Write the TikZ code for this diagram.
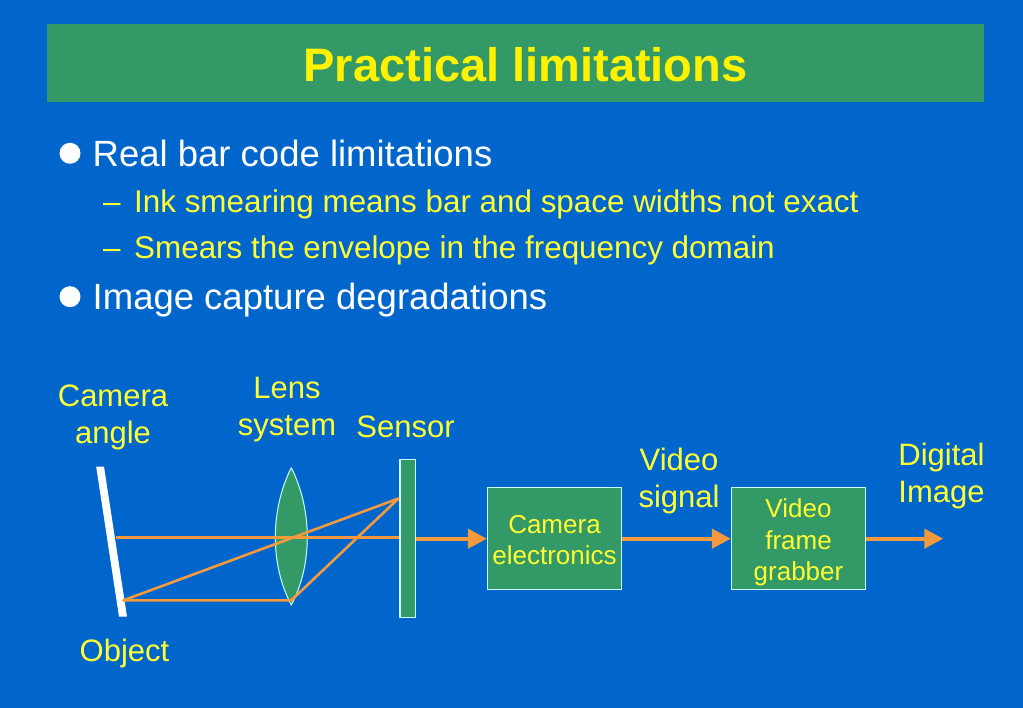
\documentclass[tikz,border=0pt]{standalone}
\usepackage{fontspec}
\setmainfont{Liberation Sans}
\usetikzlibrary{arrows.meta}
\definecolor{bgBlue}{HTML}{0066CC}
\definecolor{boxGreen}{HTML}{339966}
\definecolor{rayOrange}{HTML}{F59A3C}
\definecolor{textY}{HTML}{FFFF33}
\definecolor{edgeC}{HTML}{CCFFFF}
\tikzset{
	Head/.style={text=white,font=\fontsize{36.5}{36.5}\selectfont,anchor=base west,inner sep=0pt},
	Sub/.style={text=textY,font=\fontsize{31.4}{31.4}\selectfont,anchor=base west,inner sep=0pt},
	Lab/.style={text=textY,font=\fontsize{31}{37.5}\selectfont,align=center,anchor=base,inner sep=0pt},
	Box/.style={draw=edgeC,line width=1.2pt,fill=boxGreen,minimum width=134pt,minimum height=102pt,inner sep=0pt},
	BoxTxt/.style={text=textY,font=\fontsize{26}{31.5}\selectfont,align=center,inner sep=0pt},
	Dot/.style={circle,fill=white,minimum size=21pt,inner sep=0pt},
	Ray/.style={rayOrange,line width=2.6pt,line join=round},
	Flow/.style={->,rayOrange,line width=4.4pt}
}

\begin{document}
\begin{tikzpicture}[>={Triangle[length=19pt,width=19pt]},x=1pt,y=-1pt]

	% background and title
	\fill[bgBlue] (0,0) rectangle (1023,708);
	\useasboundingbox (0,0) rectangle (1023,708);
	\node[fill=boxGreen,minimum width=937pt,minimum height=78pt,inner sep=0pt] (titlebar) at (515.5,63) {};
	\node[text=yellow,font=\fontsize{47}{47}\selectfont\bfseries,anchor=base,inner sep=0pt] (title) at (525.5,81.5) {Practical limitations};

	% bullets
	\node[Dot] (dota) at (70,153.3) {};
	\node[Head] (reallim) at (92.5,167) {Real bar code limitations};
	\node[Sub] (dasha) at (103,213) {–};
	\node[Sub] (ink) at (134,213) {Ink smearing means bar and space widths not exact};
	\node[Sub] (dashb) at (103,258.5) {–};
	\node[Sub] (smear) at (134,258.5) {Smears the envelope in the frequency domain};
	\node[Dot] (dotb) at (70,296.7) {};
	\node[Head] (capture) at (92.5,310) {Image capture degradations};

	% object, lens, sensor
	\fill[white] (96.2,466.7)--(104,466.7)--(127,616.7)--(119,616.7)--cycle;

	\coordinate (lensT) at (291.3,467.7);
	\coordinate (lensB) at (291.3,605);
	\draw[fill=boxGreen,draw=edgeC,line width=1pt] (lensT) .. controls (270,510) and (270,565) .. (lensB)
		.. controls (312.6,565) and (312.6,510) .. (lensT);

	\node[draw=edgeC,line width=1.2pt,fill=boxGreen,minimum width=15.5pt,minimum height=158pt,inner sep=0pt] (sensor) at (407.8,538.7) {};

	% rays
	\coordinate (obja) at (115.7,537.7);
	\coordinate (objb) at (123.5,600.3);
	\coordinate (edge) at (291.3,600.3);
	\coordinate (hit) at (398.5,498.5);
	\coordinate (senshit) at (399.2,537.7);
	\draw[Ray] (obja)--(senshit);
	\draw[Ray] (objb)--(edge)--(hit)--cycle;

	% blocks
	\node[Box] (camera) at (554.5,538.7) {};
	\node[Box] (grabber) at (798.5,538.7) {};
	\node[BoxTxt,yshift=-1.5pt] (camtxt) at (camera) {Camera\\electronics};
	\node[BoxTxt,yshift=-4pt] (grabtxt) at (grabber) {Video\\frame\\grabber};
	\coordinate (outend) at (943.3,538.7);

	\draw[Flow] (sensor)++(8,0)--(camera.west);
	\draw[Flow] (camera)--(grabber);
	\draw[Flow] (grabber)--(outend);

	% labels
	\node[Lab] (camangle) at (113,443.5) {Camera\\angle};
	\node[Lab] (lenssys) at (287,435.5) {Lens\\system};
	\node[Lab] (senslab) at (405.5,437.5) {Sensor};
	\node[Lab] (objlab) at (124.5,661.5) {Object};
	\node[Lab] (vidsig) at (679,507.7) {Video\\signal};
	\node[Lab] (digimg) at (941.5,502.7) {Digital\\Image};

\end{tikzpicture}
\end{document}
